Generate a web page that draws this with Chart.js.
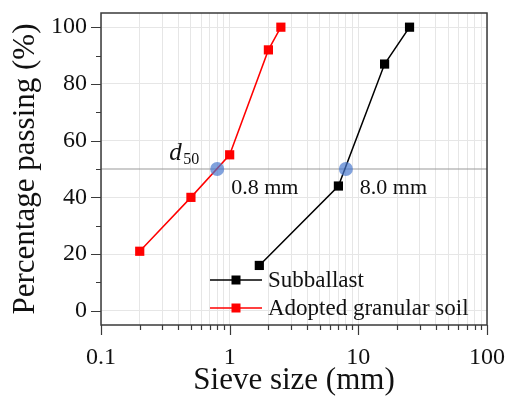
<!DOCTYPE html>
<html>
<head>
<meta charset="utf-8">
<script src="https://cdn.jsdelivr.net/npm/chart.js@4"></script>
<style>
  html, body { margin: 0; padding: 0; background: #fff; }
  canvas { display: block; }
</style>
</head>
<body>
<canvas id="psd" width="513" height="399"></canvas>
<script>
// Grain size distribution curves
const subballastSize = [1.7, 7, 16, 25];
const subballastPass = [16, 44, 87, 100];
const granularSize = [0.2, 0.5, 1, 2, 2.5];
const granularPass = [21, 40, 55, 92, 100];

// d50 marks (size in mm at 50 % passing)
const d50Level = 50;
const d50Sizes = [0.8, 8.0];
const d50Labels = ['0.8 mm', '8.0 mm'];

// axis ticks
const xDecades = [0.1, 1, 10, 100];
const yTicks = [0, 10, 20, 30, 40, 50, 60, 70, 80, 90, 100];
const yLabelStep = 20;

const SERIF = '"Liberation Serif", "Times New Roman", serif';

function pts(xs, ys) {
  return xs.map((x, i) => ({ x: x, y: ys[i] }));
}

// log ticks: 1..9 within each decade
const xTicks = [];
for (let d = 0; d < xDecades.length - 1; d++) {
  for (let k = 1; k <= 9; k++) xTicks.push(+(xDecades[d] * k).toPrecision(3));
}
xTicks.push(xDecades[xDecades.length - 1]);

const series = [
  { label: 'Subballast', color: '#000000', xs: subballastSize, ys: subballastPass },
  { label: 'Adopted granular soil', color: '#ff0000', xs: granularSize, ys: granularPass }
];

// keep tick-label overhang from shrinking the plot box
function noOverhang(scale) {
  scale.paddingLeft = scale.paddingRight = 0;
  scale.paddingTop = scale.paddingBottom = 0;
}

// frame, outward tick marks, legend and d50 annotations
const decorPlugin = {
  id: 'decor',
  afterDraw(chart) {
    const ctx = chart.ctx;
    const a = chart.chartArea;
    const xs = chart.scales.x, ys = chart.scales.y;
    ctx.save();

    // box
    ctx.strokeStyle = '#3a3a3a';
    ctx.lineWidth = 1.5;
    ctx.strokeRect(a.left, a.top, a.right - a.left, a.bottom - a.top);

    // tick marks
    ctx.lineWidth = 1.2;
    ctx.beginPath();
    xTicks.forEach(v => {
      const px = Math.round(xs.getPixelForValue(v)) + 0.5;
      const len = xDecades.includes(v) ? 10 : 5;
      ctx.moveTo(px, a.bottom);
      ctx.lineTo(px, a.bottom + len);
    });
    yTicks.forEach(v => {
      const py = Math.round(ys.getPixelForValue(v)) + 0.5;
      const len = v % yLabelStep === 0 ? 10 : 5;
      ctx.moveTo(a.left, py);
      ctx.lineTo(a.left - len, py);
    });
    ctx.stroke();

    // d50 symbol
    const p0x = xs.getPixelForValue(d50Sizes[0]);
    const p0y = ys.getPixelForValue(d50Level);
    ctx.fillStyle = '#111';
    ctx.textAlign = 'left';
    ctx.textBaseline = 'alphabetic';
    ctx.font = 'italic 25px ' + SERIF;
    ctx.fillText('d', p0x - 48, p0y - 9);
    ctx.font = '16px ' + SERIF;
    ctx.fillText('50', p0x - 34, p0y - 5);

    // d50 values
    ctx.font = '22px ' + SERIF;
    ctx.textBaseline = 'middle';
    d50Sizes.forEach((s, i) => {
      ctx.fillText(d50Labels[i], xs.getPixelForValue(s) + 14, p0y + 19);
    });

    // legend
    const lx = a.left + 109;
    let ly = a.bottom - 45;
    series.forEach(s => {
      ctx.strokeStyle = s.color;
      ctx.lineWidth = 1.5;
      ctx.beginPath();
      ctx.moveTo(lx, ly);
      ctx.lineTo(lx + 52, ly);
      ctx.stroke();
      ctx.fillStyle = s.color;
      ctx.fillRect(lx + 26 - 4.5, ly - 4.5, 9, 9);
      ctx.fillStyle = '#111';
      ctx.font = '23px ' + SERIF;
      ctx.textBaseline = 'middle';
      ctx.fillText(s.label, lx + 58, ly + 1);
      ly += 28;
    });
    ctx.restore();
  }
};

new Chart(document.getElementById('psd'), {
  type: 'scatter',
  data: {
    datasets: [
      {
        label: 'd50',
        data: pts(d50Sizes, d50Sizes.map(() => d50Level)),
        pointRadius: 7,
        pointBackgroundColor: 'rgba(70, 118, 205, 0.68)',
        pointBorderWidth: 0,
        showLine: false,
        order: 0
      },
      ...series.map((s, i) => ({
        label: s.label,
        data: pts(s.xs, s.ys),
        showLine: true,
        borderColor: s.color,
        borderWidth: 1.5,
        pointStyle: 'rect',
        pointRadius: 6.5,
        pointBackgroundColor: s.color,
        pointBorderWidth: 0,
        order: i + 1
      })),
      {
        label: 'd50 level',
        data: pts([xDecades[0], xDecades[xDecades.length - 1]], [d50Level, d50Level]),
        showLine: true,
        borderColor: '#9a9a9a',
        borderWidth: 1.2,
        pointRadius: 0,
        order: 5
      }
    ]
  },
  options: {
    responsive: false,
    animation: false,
    devicePixelRatio: 1,
    layout: { padding: { top: 13, right: 26, left: 0, bottom: 0 } },
    plugins: {
      legend: { display: false },
      tooltip: { enabled: false }
    },
    scales: {
      x: {
        type: 'logarithmic',
        min: xDecades[0],
        max: xDecades[xDecades.length - 1],
        afterBuildTicks: scale => { scale.ticks = xTicks.map(v => ({ value: v })); },
        afterFit: scale => { scale.height = 74; noOverhang(scale); },
        grid: { color: '#e6e6e6', lineWidth: 1, drawTicks: false },
        border: { display: false },
        ticks: {
          autoSkip: false,
          maxRotation: 0,
          padding: 18,
          color: '#111',
          font: { family: SERIF, size: 24 },
          callback: v => xDecades.includes(v) ? String(v) : ''
        },
        title: {
          display: true,
          text: 'Sieve size (mm)',
          color: '#111',
          font: { family: SERIF, size: 31 },
          padding: { top: 0, bottom: 0 }
        }
      },
      y: {
        min: -5,
        max: 105,
        afterBuildTicks: scale => { scale.ticks = yTicks.map(v => ({ value: v })); },
        afterFit: scale => { scale.width = 101; noOverhang(scale); },
        grid: { color: '#e6e6e6', lineWidth: 1, drawTicks: false },
        border: { display: false },
        ticks: {
          padding: 14,
          color: '#111',
          font: { family: SERIF, size: 24 },
          callback: v => v % yLabelStep === 0 ? String(v) : ''
        },
        title: {
          display: true,
          text: 'Percentage passing (%)',
          color: '#111',
          font: { family: SERIF, size: 31 },
          padding: { top: 7, bottom: 0 }
        }
      }
    }
  },
  plugins: [decorPlugin]
});
</script>
</body>
</html>
